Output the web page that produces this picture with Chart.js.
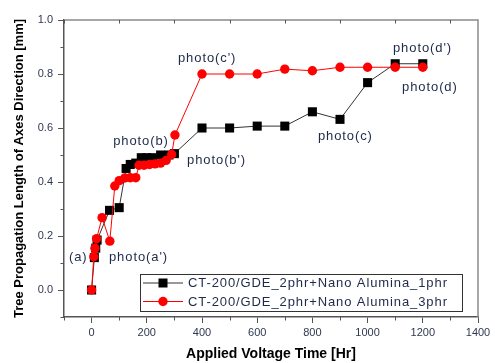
<!DOCTYPE html>
<html>
<head>
<meta charset="utf-8">
<script src="https://cdn.jsdelivr.net/npm/chart.js@4"></script>
<style>
html,body{margin:0;padding:0;background:#fff;}
#c{display:block;}
</style>
</head>
<body>
<canvas id="c" width="495" height="363"></canvas>
<script>
// ---- Data ----
const hours1phr = [0,10,15,20,65,100,125,140,160,180,200,220,250,280,300,400,500,600,700,800,900,1000,1100,1200];
const len1phr   = [0,0.12,0.155,0.185,0.295,0.305,0.45,0.465,0.47,0.49,0.49,0.49,0.5,0.5,0.505,0.6,0.6,0.607,0.607,0.66,0.632,0.768,0.838,0.838];
const hours3phr = [0,8,12,18,38,66,84,100,120,140,160,172,190,210,230,250,270,290,302,400,500,600,700,800,900,1000,1100,1200];
const len3phr   = [0,0.123,0.155,0.19,0.268,0.181,0.385,0.405,0.415,0.416,0.416,0.462,0.462,0.465,0.467,0.47,0.48,0.502,0.574,0.8,0.8,0.8,0.818,0.812,0.825,0.825,0.825,0.825];
const seriesNames = ['CT-200/GDE_2phr+Nano Alumina_1phr','CT-200/GDE_2phr+Nano Alumina_3phr'];
const xTicks = [0,200,400,600,800,1000,1200,1400];
const yTicks = [0,0.2,0.4,0.6,0.8,1.0];
const xTitle = 'Applied Voltage Time [Hr]';
const yTitle = 'Tree Propagation Length of Axes Direction [mm]';
// annotation labels: text, x (Hr), y (mm) of label's left/middle
const noteTexts = ['(a)','photo(a\')','photo(b)','photo(b\')','photo(c\')','photo(c)','photo(d\')','photo(d)'];
const noteX = [-82,63,78,346,313,820,1092,1125];
const noteY = [0.119,0.119,0.552,0.479,0.859,0.567,0.896,0.752];

const toPts = (xs, ys) => xs.map((x,i)=>({x:x, y:ys[i]}));

const extras = {
  id:'extras',
  afterDraw(chart){
    const ctx = chart.ctx, a = chart.chartArea;
    const xs = chart.scales.x, ys = chart.scales.y;
    ctx.save();
    // frame top & right
    ctx.strokeStyle = '#8a8a8a'; ctx.lineWidth = 1.5;
    ctx.beginPath(); ctx.moveTo(a.left, a.top); ctx.lineTo(a.right, a.top); ctx.lineTo(a.right, a.bottom); ctx.stroke();
    // minor ticks
    ctx.strokeStyle = '#555'; ctx.lineWidth = 1;
    ctx.beginPath();
    for (let v=-100; v<=1400; v+=200){
      const px = Math.round(xs.getPixelForValue(v))+0.5;
      ctx.moveTo(px, a.bottom); ctx.lineTo(px, a.bottom+3.5);
      ctx.moveTo(px, a.top); ctx.lineTo(px, a.top+3.5);
    }
    for (let k=-1; k<=9; k+=2){
      const py = Math.round(ys.getPixelForValue(k/10))+0.5;
      ctx.moveTo(a.left, py); ctx.lineTo(a.left-3.5, py);
    }
    ctx.stroke();
    // annotations
    ctx.fillStyle = '#1e2a48';
    ctx.font = '13px "Liberation Sans", Arial, sans-serif';
    try { ctx.letterSpacing = '0.9px'; } catch(e){}
    ctx.textAlign = 'left'; ctx.textBaseline = 'middle';
    noteTexts.forEach((t,i)=>{
      ctx.fillText(t, xs.getPixelForValue(noteX[i]), ys.getPixelForValue(noteY[i]));
    });
    // legend
    const lx = 140, ly = 274, lw = 322, lh = 37;
    ctx.fillStyle = '#fff'; ctx.fillRect(lx, ly, lw, lh);
    ctx.strokeStyle = '#333'; ctx.lineWidth = 1;
    ctx.strokeRect(lx+0.5, ly+0.5, lw, lh);
    const rows = [283, 301.5];
    const dsOrder = [0,1];
    dsOrder.forEach((di,r)=>{
      const ds = chart.data.datasets[di];
      const y = rows[r];
      ctx.strokeStyle = ds.borderColor; ctx.lineWidth = 1;
      ctx.beginPath(); ctx.moveTo(lx+3, y); ctx.lineTo(lx+43, y); ctx.stroke();
      ctx.fillStyle = ds.backgroundColor;
      if (ds.pointStyle === 'rect'){
        ctx.fillRect(lx+23-4.5, y-4.5, 9, 9);
      } else {
        ctx.beginPath(); ctx.arc(lx+23, y, ds.pointRadius, 0, Math.PI*2); ctx.fill();
      }
      ctx.fillStyle = '#1e2a48';
      ctx.fillText(ds.label, lx+48, y+0.5);
    });
    ctx.restore();
  }
};

new Chart(document.getElementById('c'), {
  type:'scatter',
  data:{
    datasets:[
      { label: seriesNames[0], data: toPts(hours1phr, len1phr), showLine:true,
        borderColor:'#333333', backgroundColor:'#000000', borderWidth:1,
        pointStyle:'rect', pointRadius:6.4, pointBorderWidth:0, order:2 },
      { label: seriesNames[1], data: toPts(hours3phr, len3phr), showLine:true,
        borderColor:'#ff0000', backgroundColor:'#ff0000', borderWidth:1,
        pointStyle:'circle', pointRadius:4.7, pointBorderWidth:0, order:1 }
    ]
  },
  options:{
    responsive:false, animation:false, devicePixelRatio:1,
    layout:{ padding:{ top:20, right:17, left:0, bottom:0 } },
    plugins:{ legend:{display:false}, tooltip:{enabled:false} },
    scales:{
      x:{
        type:'linear', min:-100, max:1400,
        afterBuildTicks: s => { s.ticks = xTicks.map(v=>({value:v})); },
        afterFit: s => { s.height = 46; },
        ticks:{ padding:3, color:'#2e3850', font:{family:'"Liberation Sans", Arial, sans-serif', size:11},
                maxRotation:0, autoSkip:false, callback: v => String(v) },
        grid:{ drawOnChartArea:false, drawTicks:true, tickLength:6, color:'#555', lineWidth:1 },
        border:{ display:true, color:'#555', width:1.5 },
        title:{ display:true, text:xTitle, color:'#000', padding:{top:0,bottom:0},
                font:{family:'"Liberation Sans", Arial, sans-serif', size:14, weight:'bold'} }
      },
      y:{
        type:'linear', min:-0.1, max:1.0,
        afterBuildTicks: s => { s.ticks = yTicks.map(v=>({value:v})); },
        afterFit: s => { s.width = 64; },
        ticks:{ padding:5, color:'#2e3850', font:{family:'"Liberation Sans", Arial, sans-serif', size:11},
                autoSkip:false, callback: v => Number(v).toFixed(1) },
        grid:{ drawOnChartArea:false, drawTicks:true, tickLength:6, color:'#555', lineWidth:1 },
        border:{ display:true, color:'#555', width:1.5 },
        title:{ display:true, text:yTitle, color:'#000', padding:{top:12,bottom:0},
                font:{family:'"Liberation Sans", Arial, sans-serif', size:13, weight:'bold'} }
      }
    }
  },
  plugins:[extras]
});
</script>
</body>
</html>
